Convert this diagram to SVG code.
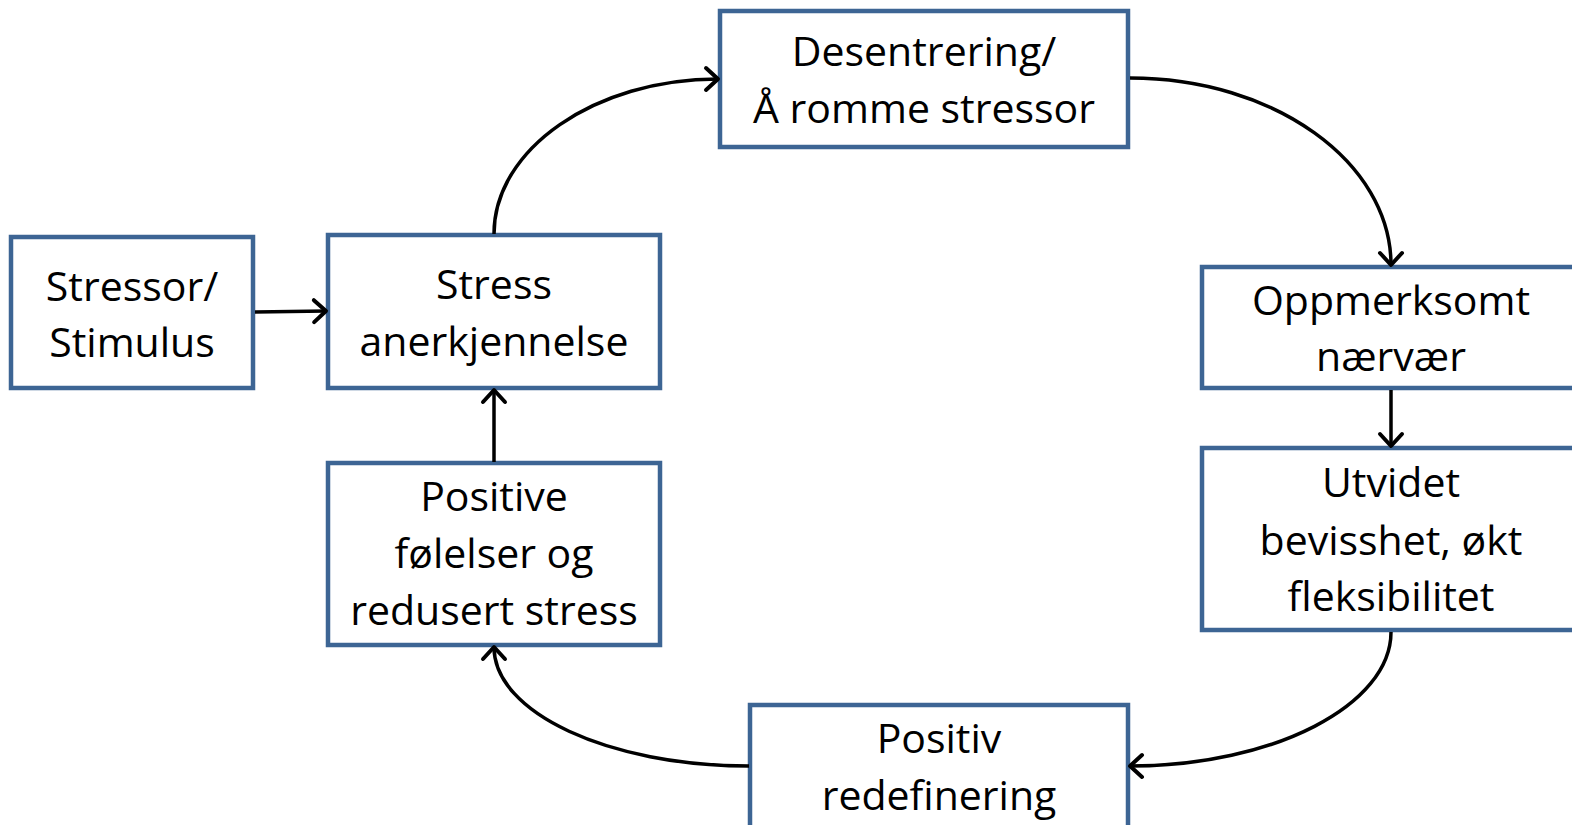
<svg xmlns="http://www.w3.org/2000/svg" width="1572" height="825" viewBox="0 0 1572 825">
<defs>
<marker id="arr" markerUnits="userSpaceOnUse" markerWidth="30" markerHeight="30" viewBox="-16 -15 20 30" refX="0" refY="0" orient="auto">
<path d="M-12,-11 L0,0 L-12,11" fill="none" stroke="#000" stroke-width="4" stroke-linecap="round" stroke-linejoin="round"/>
</marker>
</defs>
<style>
.box{fill:#fff;stroke:#3D6594;stroke-width:4.5}
.t{font-family:"Open Sans","Liberation Sans",sans-serif;font-size:41px;fill:#000;text-anchor:middle}
.c{fill:none;stroke:#000;stroke-width:3.5}
</style>
<rect width="1572" height="825" fill="#fff"/>
<g id="stressor">
<rect class="box" x="11" y="237" width="242" height="151"/>
<text class="t" x="132" y="301">Stressor/</text>
<text class="t" x="132" y="357">Stimulus</text>
</g>
<g id="anerkjennelse">
<rect class="box" x="328" y="235" width="332" height="153"/>
<text class="t" x="494" y="299">Stress</text>
<text class="t" x="494" y="356">anerkjennelse</text>
</g>
<g id="desentrering">
<rect class="box" x="720" y="11" width="408" height="136"/>
<text class="t" x="924" y="66">Desentrering/</text>
<text class="t" x="924" y="123">Å romme stressor</text>
</g>
<g id="oppmerksomt">
<rect class="box" x="1202" y="267" width="380" height="121"/>
<text class="t" x="1391" y="315">Oppmerksomt</text>
<text class="t" x="1391" y="371">nærvær</text>
</g>
<g id="utvidet">
<rect class="box" x="1202" y="448" width="380" height="182"/>
<text class="t" x="1391" y="497">Utvidet</text>
<text class="t" x="1391" y="555">bevisshet, økt</text>
<text class="t" x="1391" y="611">fleksibilitet</text>
</g>
<g id="redefinering">
<rect class="box" x="750" y="705" width="378" height="140"/>
<text class="t" x="939" y="753">Positiv</text>
<text class="t" x="939" y="810">redefinering</text>
</g>
<g id="positive">
<rect class="box" x="328" y="463" width="332" height="182"/>
<text class="t" x="494" y="511">Positive</text>
<text class="t" x="494" y="568">følelser og</text>
<text class="t" x="494" y="625">redusert stress</text>
</g>
<g id="connectors">
<path class="c" d="M255,312 L326,311" marker-end="url(#arr)"/>
<path class="c" d="M494,234 C494,149 595,79 718,79" marker-end="url(#arr)"/>
<path class="c" d="M1130,78 C1274,78 1391,162 1391,265" marker-end="url(#arr)"/>
<path class="c" d="M1391,390 L1391,446" marker-end="url(#arr)"/>
<path class="c" d="M1391,632 C1391,705 1274,766 1130,766" marker-end="url(#arr)"/>
<path class="c" d="M749,766 C609,766 494,713 494,647" marker-end="url(#arr)"/>
<path class="c" d="M494,462 L494,390" marker-end="url(#arr)"/>
</g>
</svg>
